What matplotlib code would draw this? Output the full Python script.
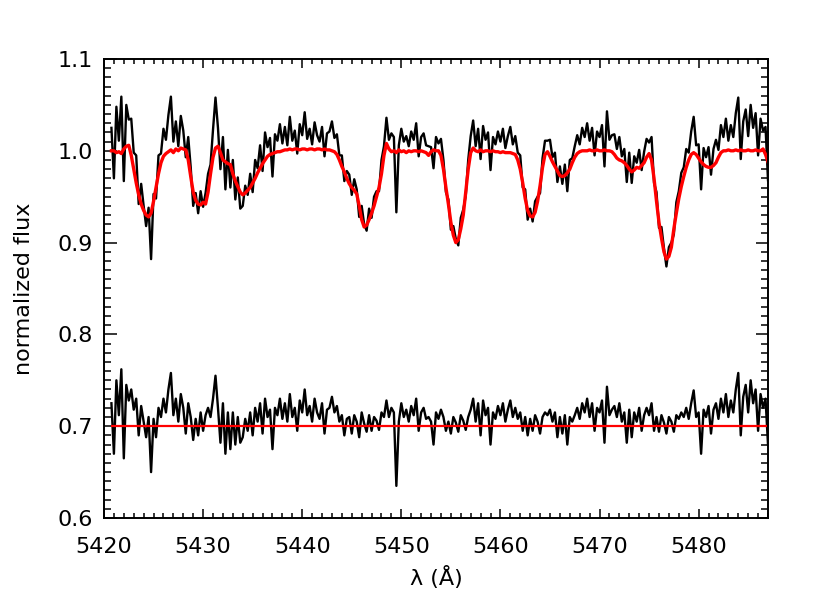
import numpy as np
import matplotlib
matplotlib.use('Agg')
import matplotlib.pyplot as plt
from matplotlib.ticker import MultipleLocator, FormatStrFormatter

plt.rcParams['font.family'] = ['DejaVu Sans']

# wavelength grid of the spectrum (0.25 A sampling)
wave_start = 5420.75
wave_step = 0.25

# fitted model (red), one value per grid point
model = [
    1.000, 1.000, 0.998, 0.999, 0.997, 1.002, 1.005, 1.006,
    0.995, 0.980, 0.965, 0.952, 0.942, 0.935, 0.930, 0.928,
    0.932, 0.945, 0.960, 0.975, 0.987, 0.994, 0.997, 0.999,
    1.001, 0.998, 1.002, 1.000, 1.003, 1.002, 1.001, 0.990,
    0.972, 0.955, 0.946, 0.942, 0.941, 0.944, 0.942, 0.955,
    0.975, 0.993, 1.003, 1.005, 0.998, 0.990, 0.988, 0.986,
    0.985, 0.975, 0.967, 0.961, 0.955, 0.952, 0.954, 0.957,
    0.960, 0.965, 0.970, 0.976, 0.981, 0.986, 0.990, 0.994,
    0.996, 0.997, 0.998, 0.999, 0.999, 1.000, 1.001, 1.001,
    1.002, 1.001, 1.002, 1.002, 1.001, 1.002, 1.002, 1.001,
    1.002, 1.002, 1.001, 1.002, 1.002, 1.001, 1.002, 1.001,
    1.001, 1.000, 0.999, 0.996, 0.990, 0.983, 0.977, 0.970,
    0.964, 0.960, 0.957, 0.953, 0.940, 0.925, 0.917, 0.919,
    0.925, 0.932, 0.940, 0.950, 0.960, 0.975, 0.995, 1.008,
    1.002, 0.999, 1.000, 0.998, 1.001, 0.999, 1.000, 0.998,
    1.000, 0.999, 1.000, 1.000, 0.999, 1.000, 0.999, 0.998,
    0.995, 0.999, 1.001, 1.000, 1.000, 0.995, 0.980, 0.960,
    0.942, 0.922, 0.908, 0.900, 0.903, 0.915, 0.930, 0.955,
    0.980, 0.998, 1.003, 1.000, 0.999, 1.001, 0.999, 1.000,
    1.000, 0.999, 1.000, 0.999, 0.999, 0.998, 0.999, 0.998,
    0.998, 0.998, 0.997, 0.996, 0.990, 0.980, 0.965, 0.948,
    0.935, 0.929, 0.928, 0.933, 0.945, 0.962, 0.982, 0.996,
    0.999, 0.994, 0.988, 0.983, 0.978, 0.973, 0.972, 0.973,
    0.976, 0.980, 0.987, 0.993, 0.997, 0.999, 1.000, 1.000,
    1.000, 1.001, 1.000, 1.000, 1.001, 1.000, 1.000, 1.001,
    1.000, 1.000, 0.999, 0.996, 0.992, 0.990, 0.989, 0.987,
    0.984, 0.980, 0.977, 0.979, 0.982, 0.981, 0.984, 0.987,
    0.993, 0.997, 0.990, 0.970, 0.945, 0.922, 0.905, 0.890,
    0.882, 0.885, 0.895, 0.915, 0.932, 0.948, 0.961, 0.972,
    0.982, 0.990, 0.996, 0.998, 0.996, 0.992, 0.988, 0.985,
    0.983, 0.982, 0.982, 0.984, 0.987, 0.993, 0.998, 1.000,
    1.000, 1.001, 1.000, 1.000, 1.001, 1.000, 1.001, 1.000,
    1.000, 1.001, 1.000, 1.000, 1.001, 1.000, 1.000, 1.002,
    0.996, 0.988,
]

resid = [
    0.025, -0.030, 0.050, 0.012, 0.062, -0.035, 0.045, 0.028,
    0.040, 0.018, 0.030, -0.010, 0.022, 0.005, -0.012, 0.010,
    -0.050, 0.008, -0.012, 0.020, 0.010, 0.030, 0.015, 0.040,
    0.058, 0.012, 0.030, 0.005, 0.035, 0.020, -0.008, 0.025,
    0.010, -0.015, 0.008, -0.010, 0.015, -0.005, 0.012, 0.020,
    0.010, 0.030, 0.055, 0.020, -0.018, 0.025, -0.030, 0.015,
    -0.025, 0.015, -0.020, 0.010, -0.018, -0.012, 0.008, -0.005,
    0.015, -0.010, 0.020, 0.005, 0.025, -0.008, 0.030, 0.010,
    0.018, -0.025, 0.020, 0.012, 0.030, 0.008, 0.025, 0.005,
    0.035, 0.010, 0.020, -0.005, 0.028, 0.015, 0.040, 0.012,
    0.022, 0.005, 0.030, 0.015, 0.008, 0.025, -0.008, 0.018,
    0.020, 0.032, 0.015, 0.022, 0.005, 0.012, -0.010, 0.008,
    0.010, -0.008, 0.012, 0.005, -0.012, 0.015, 0.003, -0.006,
    0.012, -0.005, 0.010, 0.006, -0.004, 0.015, 0.010, 0.028,
    0.010, 0.020, 0.015, -0.065, 0.005, 0.025, 0.010, 0.018,
    0.005, 0.022, 0.012, 0.030, -0.005, 0.015, 0.020, 0.008,
    0.010, 0.005, -0.020, 0.015, 0.008, 0.018, 0.010, -0.005,
    0.005, -0.008, 0.010, 0.004, -0.006, 0.012, 0.006, -0.004,
    0.010, 0.018, 0.030, 0.005, 0.025, -0.010, 0.028, 0.012,
    0.020, -0.020, 0.015, 0.008, 0.022, 0.012, 0.025, 0.005,
    0.018, 0.028, 0.010, 0.020, 0.008, 0.015, -0.005, 0.010,
    -0.010, 0.008, -0.005, 0.012, 0.005, -0.008, 0.010, 0.015,
    0.012, 0.018, 0.005, 0.015, -0.012, 0.010, -0.008, 0.012,
    -0.020, 0.010, 0.005, 0.012, 0.020, 0.008, 0.025, 0.015,
    0.030, 0.010, 0.025, -0.005, 0.020, 0.015, 0.028, -0.018,
    0.043, 0.012, 0.018, 0.022, 0.010, 0.025, 0.005, 0.015,
    -0.018, 0.018, -0.012, 0.015, 0.005, 0.020, -0.005, 0.012,
    0.020, 0.012, 0.025, -0.005, 0.010, -0.006, 0.012, 0.004,
    -0.008, 0.010, 0.005, -0.006, 0.012, 0.008, 0.015, 0.010,
    0.020, 0.008, 0.025, 0.039, 0.010, 0.015, -0.030, 0.018,
    0.010, 0.022, -0.008, 0.018, 0.025, 0.008, 0.030, 0.015,
    0.035, 0.010, 0.028, 0.015, 0.040, 0.058, -0.010, 0.032,
    0.045, 0.015, 0.050, 0.025, 0.040, -0.005, 0.035, 0.020,
    0.030, -0.020,
]

offset = 0.7  # residuals shifted to this level

model = np.array(model)
resid = np.array(resid)
wave = wave_start + wave_step * np.arange(len(model))
flux = model + resid

fig = plt.figure(figsize=(8.3, 5.93), dpi=100)
ax = fig.add_axes([104/830, 1 - 518/593, 664/830, 459/593])

ax.plot(wave, flux, color='black', lw=1.7)
ax.plot(wave, model, color='red', lw=2.4)
ax.plot(wave, resid + offset, color='black', lw=1.7)
ax.hlines(offset, wave[0], wave[-1], color='red', lw=1.6)

ax.set_xlim(5420, 5487)
ax.set_ylim(0.6, 1.1)
ax.xaxis.set_major_locator(MultipleLocator(10))
ax.xaxis.set_minor_locator(MultipleLocator(1))
ax.yaxis.set_major_locator(MultipleLocator(0.1))
ax.yaxis.set_minor_locator(MultipleLocator(0.01))
ax.yaxis.set_major_formatter(FormatStrFormatter('%.1f'))

ax.tick_params(which='both', direction='in', top=True, right=True,
               width=1.1, labelsize=16)
ax.tick_params(axis='x', which='major', length=6.2, pad=14)
ax.tick_params(axis='x', which='minor', length=3.3)
ax.tick_params(axis='y', which='major', length=9, pad=8)
ax.tick_params(axis='y', which='minor', length=4.7)
for s in ax.spines.values():
    s.set_linewidth(1.4)

ax.set_xlabel('λ (Å)', fontsize=16, labelpad=6)
ax.set_ylabel('normalized flux', fontsize=16, labelpad=17)

fig.savefig('out.png', dpi=100)
